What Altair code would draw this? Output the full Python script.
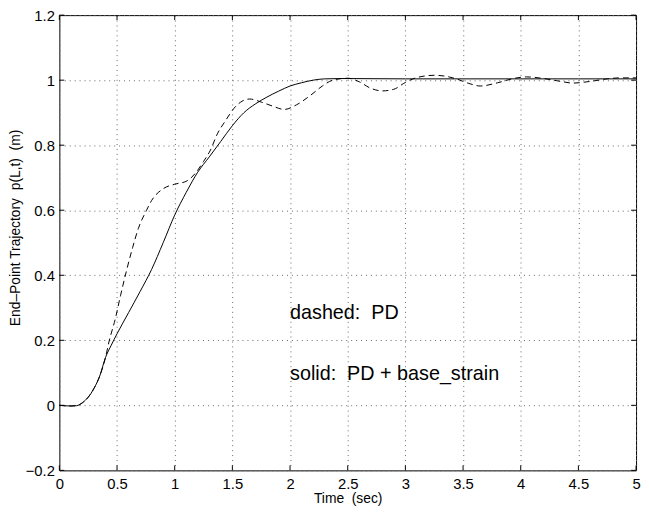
import altair as alt
import pandas as pd

# ---- data ----
solid_t = [0, 0.1, 0.15, 0.2, 0.25, 0.3, 0.35, 0.4, 0.45, 0.5, 0.6, 0.7, 0.8, 0.9,
           1.0, 1.1, 1.2, 1.3, 1.4, 1.5, 1.6, 1.7, 1.8, 1.9, 2.0, 2.1, 2.2, 2.3, 2.45,
           3.0, 3.5, 4.0, 4.5, 5.0]
solid_v = [0, -0.002, -0.001, 0.008, 0.025, 0.052, 0.09, 0.147, 0.185, 0.22, 0.285, 0.35, 0.418,
           0.5, 0.585, 0.655, 0.717, 0.764, 0.812, 0.86, 0.90, 0.927, 0.948, 0.966,
           0.982, 0.992, 1.0, 1.004, 1.005, 1.004, 1.004, 1.004, 1.004, 1.004]

dashed_t = [0, 0.1, 0.15, 0.2, 0.25, 0.3, 0.35, 0.4, 0.43, 0.485, 0.53, 0.585, 0.635, 0.685,
            0.756, 0.8, 0.9, 1.0, 1.1, 1.18, 1.25, 1.31, 1.37, 1.44, 1.513, 1.57, 1.65,
            1.755, 1.85, 1.95, 2.055, 2.18, 2.28, 2.37, 2.5, 2.6, 2.7, 2.8, 2.9, 3.0, 3.1,
            3.25, 3.35, 3.45, 3.55, 3.65, 3.8, 3.95, 4.05, 4.2, 4.35, 4.45, 4.6, 4.75,
            4.85, 5.0]
dashed_v = [0, -0.002, -0.001, 0.008, 0.025, 0.052, 0.09, 0.147, 0.195, 0.266, 0.337, 0.418,
            0.485, 0.544, 0.6, 0.63, 0.666, 0.68, 0.689, 0.714, 0.75, 0.785, 0.835, 0.875,
            0.913, 0.932, 0.942, 0.932, 0.92, 0.91, 0.924, 0.954, 0.982, 1.0, 1.006, 0.995,
            0.975, 0.967, 0.972, 0.993, 1.008, 1.015, 1.012, 1.003, 0.99, 0.982, 0.992,
            1.006, 1.01, 1.005, 0.996, 0.991, 0.996, 1.004, 1.007, 1.007]

x_ticks = [0, 0.5, 1, 1.5, 2, 2.5, 3, 3.5, 4, 4.5, 5]
y_ticks = [-0.2, 0, 0.2, 0.4, 0.6, 0.8, 1.0, 1.2]

ann_text = ["dashed:\u00a0 PD", "solid:\u00a0 PD + base_strain"]
ann_t = [2.0, 2.0]
ann_v = [0.266, 0.078]

W, H = 584, 461
FONT = "Liberation Sans"

solid_df = pd.DataFrame({"t": solid_t, "v": solid_v})
dashed_df = pd.DataFrame({"t": dashed_t, "v": dashed_v})
xt_df = pd.DataFrame({"t": x_ticks})
yt_df = pd.DataFrame({"v": y_ticks})
ann_df = pd.DataFrame({"label": ann_text, "t": ann_t, "v": ann_v})

xs = alt.Scale(domain=[0, 5], nice=False, zero=False)
ys = alt.Scale(domain=[-0.2, 1.2], nice=False, zero=False)

x_axis = alt.Axis(values=x_ticks, format="~g", grid=True, gridDash=[1, 4], gridColor="#666",
                  gridWidth=1, ticks=False, domain=False, labelFont=FONT, labelFontSize=15,
                  labelColor="black", labelPadding=6, labelFlush=False,
                  title="Time\u00a0 (sec)", titleFont=FONT, titleFontSize=14,
                  titleFontWeight="normal", titleColor="black", titleY=33,
                  titleBaseline="alphabetic")
y_axis = alt.Axis(values=y_ticks, format="~g", grid=True, gridDash=[1, 4], gridColor="#666",
                  gridWidth=1, ticks=False, domain=False, labelFont=FONT, labelFontSize=15,
                  labelColor="black", labelPadding=5, labelFlush=False,
                  title="End\u2013Point Trajectory\u00a0 p(L,t)\u00a0 (m)", titleFont=FONT,
                  titleFontSize=14, titleFontWeight="normal", titleColor="black",
                  titleX=-40, titleY=215, titleBaseline="alphabetic")

X = alt.X("t:Q", scale=xs, axis=x_axis)
Y = alt.Y("v:Q", scale=ys, axis=y_axis)

solid = alt.Chart(solid_df).mark_line(color="black", strokeWidth=1, interpolate="monotone").encode(
    x=X, y=Y)
dashed = alt.Chart(dashed_df).mark_line(color="black", strokeWidth=1, strokeDash=[6, 4],
                                        interpolate="monotone").encode(x=X, y=Y)

tick_bottom = alt.Chart(xt_df).mark_rule(color="black", strokeWidth=1).encode(
    x=X, y=alt.value(H), y2=alt.value(H - 5))
tick_top = alt.Chart(xt_df).mark_rule(color="black", strokeWidth=1).encode(
    x=X, y=alt.value(0), y2=alt.value(5))
tick_left = alt.Chart(yt_df).mark_rule(color="black", strokeWidth=1).encode(
    y=Y, x=alt.value(0), x2=alt.value(5))
tick_right = alt.Chart(yt_df).mark_rule(color="black", strokeWidth=1).encode(
    y=Y, x=alt.value(W), x2=alt.value(W - 5))

ann = alt.Chart(ann_df).mark_text(font=FONT, fontSize=20, align="left", baseline="alphabetic",
                                  color="black").encode(
    x=X, y=Y, text="label:N")

chart = alt.layer(solid, dashed, tick_bottom, tick_top, tick_left, tick_right, ann).properties(
    width=W, height=H,
    autosize=alt.AutoSizeParams(type="none"),
    padding={"left": 52, "top": 4, "right": 5, "bottom": 44},
    background="white",
).configure_view(stroke="black", strokeWidth=1)

chart.save("out.html", embed_options={"renderer": "svg", "actions": False})
